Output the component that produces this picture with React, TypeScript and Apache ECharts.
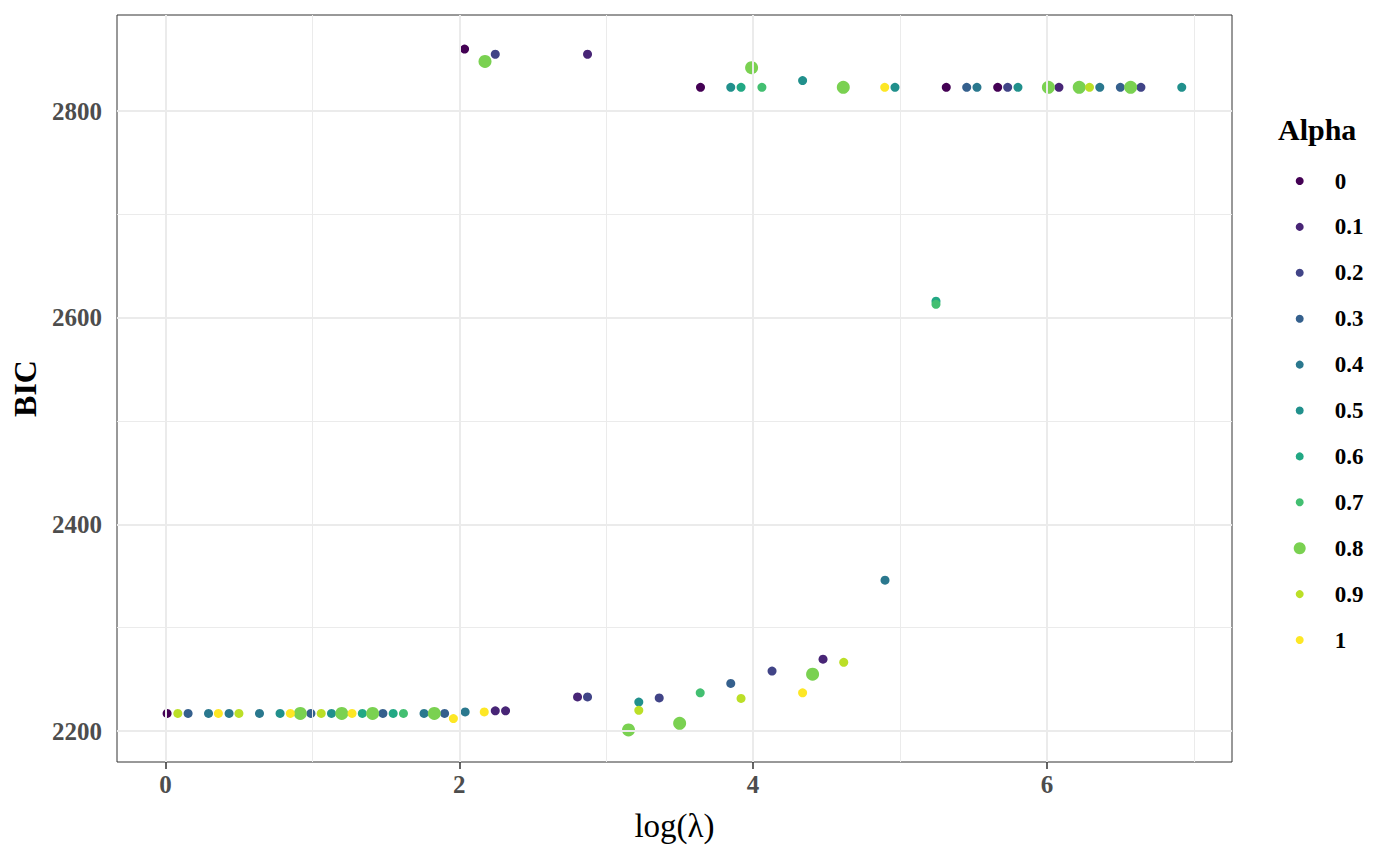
import React, { useEffect, useRef } from "react";
import * as echarts from "echarts";

// ---- data: [log(lambda), BIC] per alpha level ----
const alphaLevels = ["0", "0.1", "0.2", "0.3", "0.4", "0.5", "0.6", "0.7", "0.8", "0.9", "1"];
const alphaColors = ["#440154", "#482576", "#414487", "#35608D", "#2A788E", "#21908C", "#22A884", "#43BF71", "#7AD151", "#BBDF27", "#FDE725"];

const a00 = [[0.011, 2217], [2.036, 2860], [3.642, 2823], [5.315, 2823], [5.665, 2823]];
const a01 = [[2.245, 2219.5], [2.315, 2219.5], [2.805, 2233], [4.476, 2269.5], [2.873, 2855], [6.082, 2823]];
const a02 = [[2.873, 2233], [3.361, 2232], [4.129, 2258], [2.245, 2855], [5.733, 2823], [6.64, 2823]];
const a03 = [[0.154, 2217], [0.99, 2217], [1.48, 2217], [1.9, 2217], [3.848, 2246], [5.454, 2823], [6.5, 2823]];
const a04 = [[0.293, 2217], [0.433, 2217], [0.64, 2217], [1.76, 2217], [2.04, 2218.5], [4.898, 2346], [5.524, 2823], [6.36, 2823]];
const a05 = [[0.78, 2217], [1.13, 2217], [3.222, 2228], [3.848, 2823], [4.337, 2829.5], [4.966, 2823], [5.803, 2823], [6.918, 2823]];
const a06 = [[1.34, 2217], [1.55, 2217], [5.245, 2616], [3.918, 2823]];
const a07 = [[1.62, 2217], [3.64, 2237], [5.245, 2613], [4.06, 2823]];
const a08 = [[0.918, 2217], [1.2, 2217], [1.41, 2217], [1.83, 2217], [3.152, 2201], [3.5, 2207.5], [4.405, 2255], [2.175, 2848], [3.99, 2842], [4.614, 2823], [6.01, 2823], [6.22, 2823], [6.57, 2823]];
const a09 = [[0.084, 2217], [0.5, 2217], [1.06, 2217], [3.222, 2220], [3.918, 2231.5], [4.617, 2266.5], [6.29, 2823]];
const a10 = [[0.36, 2217], [0.85, 2217], [1.27, 2217], [1.96, 2212], [2.17, 2218.5], [4.337, 2237], [4.896, 2823]];
const alphaData = [a00, a01, a02, a03, a04, a05, a06, a07, a08, a09, a10];

const xMajor = [0, 2, 4, 6];
const xMinor = [1, 3, 5, 7];
const yMajor = [2200, 2400, 2600, 2800];
const yMinor = [2300, 2500, 2700];

const FONT = "Liberation Serif";

export default function App() {
  const ref = useRef<HTMLDivElement>(null);
  useEffect(() => {
    document.body.style.margin = "0";
    if (!ref.current) return;
    const chart = echarts.init(ref.current, undefined, { renderer: "svg" });

    const gridLines = [
      ...xMajor.map((v) => ({ xAxis: v, lineStyle: { width: 2 } })),
      ...xMinor.map((v) => ({ xAxis: v, lineStyle: { width: 1 } })),
      ...yMajor.map((v) => ({ yAxis: v, lineStyle: { width: 2 } })),
      ...yMinor.map((v) => ({ yAxis: v, lineStyle: { width: 1 } })),
    ];

    const scatterSeries = alphaLevels.map((name, i) => ({
      name,
      type: "scatter",
      data: alphaData[i],
      symbol: "circle",
      symbolSize: name === "0.8" ? 13 : 9,
      itemStyle: { color: alphaColors[i], opacity: 1 },
      z: 3,
      silent: true,
    }));

    const legendText = {
      fontFamily: FONT,
      fontWeight: "bold",
      fontSize: 23,
      color: "#000",
      lineHeight: 24,
    };
    const legendBase = {
      orient: "vertical",
      icon: "circle",
      selectedMode: false,
      padding: 0,
      itemGap: 21.9,
    };

    chart.setOption({
      animation: false,
      backgroundColor: "#fff",
      grid: {
        left: 117,
        right: 168,
        top: 15,
        bottom: 104,
        show: true,
        borderColor: "#333333",
        borderWidth: 1,
        backgroundColor: "transparent",
      },
      xAxis: {
        type: "value",
        min: -0.33,
        max: 7.26,
        name: "log(λ)",
        nameLocation: "middle",
        nameGap: 47,
        nameTextStyle: { fontFamily: FONT, fontSize: 33, color: "#000" },
        splitLine: { show: false },
        axisLine: { show: false },
        axisTick: { show: true, customValues: xMajor, length: 7, lineStyle: { color: "#333", width: 1.5 } },
        axisLabel: {
          customValues: xMajor,
          fontFamily: FONT,
          fontWeight: "bold",
          fontSize: 25,
          color: "#4D4D4D",
          margin: 10,
          formatter: (v: number) => String(v),
        },
      },
      yAxis: {
        type: "value",
        min: 2170,
        max: 2893,
        name: "BIC",
        nameLocation: "middle",
        nameRotate: 90,
        nameGap: 76,
        nameTextStyle: { fontFamily: FONT, fontSize: 32, fontWeight: "bold", color: "#000" },
        splitLine: { show: false },
        axisLine: { show: false },
        axisTick: { show: true, customValues: yMajor, length: 7, lineStyle: { color: "#333", width: 1.5 } },
        axisLabel: {
          customValues: yMajor,
          fontFamily: FONT,
          fontWeight: "bold",
          fontSize: 25,
          color: "#4D4D4D",
          margin: 15,
          formatter: (v: number) => String(v),
        },
      },
      legend: [
        {
          ...legendBase,
          left: 1295.7,
          top: 169,
          itemWidth: 8,
          itemHeight: 8,
          data: alphaLevels.slice(0, 8),
          textStyle: { ...legendText, padding: [0, 0, 0, 26] },
        },
        {
          ...legendBase,
          left: 1293.7,
          top: 536.2,
          itemWidth: 12,
          itemHeight: 12,
          data: ["0.8"],
          textStyle: { ...legendText, padding: [0, 0, 0, 24] },
        },
        {
          ...legendBase,
          left: 1295.7,
          top: 582.1,
          itemWidth: 8,
          itemHeight: 8,
          data: alphaLevels.slice(9),
          textStyle: { ...legendText, padding: [0, 0, 0, 26] },
        },
      ],
      graphic: [
        {
          type: "text",
          left: 1278,
          top: 114,
          style: {
            text: "Alpha",
            fontFamily: FONT,
            fontWeight: "bold",
            fontSize: 30,
            fill: "#000",
          },
        },
      ],
      series: [
        {
          name: "gridlines",
          type: "line",
          data: [],
          silent: true,
          z: 1,
          markLine: {
            silent: true,
            symbol: ["none", "none"],
            label: { show: false },
            lineStyle: { color: "#EBEBEB", type: "solid" },
            emphasis: { disabled: true },
            data: gridLines,
          },
        },
        ...scatterSeries,
      ],
    });
    return () => chart.dispose();
  }, []);
  return <div ref={ref} style={{ width: 1400, height: 866 }} />;
}
